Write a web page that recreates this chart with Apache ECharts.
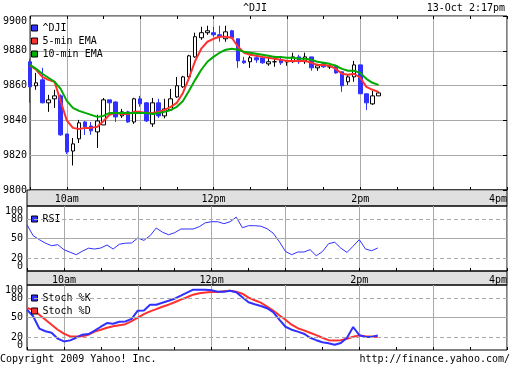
<!DOCTYPE html>
<html><head><meta charset="utf-8">
<script src="https://cdn.jsdelivr.net/npm/echarts@6/dist/echarts.min.js"></script>
<style>html,body{margin:0;padding:0;background:#fff}#c{width:512px;height:365px}</style>
</head><body><div id="c"></div>
<script>
// ---- data ----
const times = ['9:30','9:35','9:40','9:45','9:50','9:55',
'10:00','10:05','10:10','10:15','10:20','10:25','10:30','10:35','10:40','10:45','10:50','10:55',
'11:00','11:05','11:10','11:15','11:20','11:25','11:30','11:35','11:40','11:45','11:50','11:55',
'12:00','12:05','12:10','12:15','12:20','12:25','12:30','12:35','12:40','12:45','12:50','12:55',
'13:00','13:05','13:10','13:15','13:20','13:25','13:30','13:35','13:40','13:45','13:50','13:55',
'14:00','14:05','14:10','14:15','14:20','14:25','14:30','14:35','14:40','14:45','14:50','14:55',
'15:00','15:05','15:10','15:15','15:20','15:25','15:30','15:35','15:40','15:45','15:50','15:55',
'16:00'];
const xTickLabels = {'10:00':'10am','12:00':'12pm','14:00':'2pm','16:00':'4pm'};
const priceMin = 9800, priceMax = 9900, priceStep = 20;
const oscLabels = [0, 20, 50, 80, 100];
const oscGuides = [20, 50, 80];

const open  = [9873.7,9859.9,9863.3,9850.1,9852.4,9854.1,9832.2,9822.4,9829.4,9839.1,
               9836.8,9833.4,9837.4,9851.8,9850.6,9842.6,9844.9,9839.1,9852.4,9850.1,
               9838.0,9850.1,9842.6,9846.0,9853.5,9859.3,9865.0,9876.5,9887.5,9890.4,
               9890.4,9889.2,9886.9,9891.5,9886.9,9874.2,9873.7,9876.0,9876.0,9872.5,
               9873.7,9874.8,9873.7,9873.7,9876.5,9873.7,9876.5,9870.2,9872.5,9870.8,
               9871.4,9867.9,9862.2,9865.0,9871.9,9855.3,9849.5,9854.1];
const close = [9859.3,9861.6,9850.1,9851.8,9854.1,9831.7,9821.9,9826.5,9838.6,9836.3,
               9834.0,9839.7,9851.8,9850.1,9842.0,9844.9,9839.1,9852.4,9849.5,9839.7,
               9850.1,9842.6,9846.6,9852.4,9859.9,9865.0,9877.1,9888.1,9890.4,9891.5,
               9889.2,9888.1,9890.9,9887.5,9874.2,9873.1,9876.0,9874.8,9873.1,9873.7,
               9873.7,9873.1,9873.7,9876.5,9873.7,9876.5,9870.2,9871.4,9870.8,9870.8,
               9867.3,9859.9,9865.0,9871.9,9855.3,9850.1,9854.1,9855.8];
const low   = [9850.1,9857.6,9849.8,9844.9,9847.2,9831.1,9820.7,9814.1,9827.0,9831.7,
               9831.7,9824.2,9837.4,9845.0,9839.1,9841.4,9838.6,9838.0,9847.8,9839.1,
               9836.3,9841.4,9841.2,9845.5,9852.9,9858.7,9864.4,9876.0,9886.3,9889.2,
               9888.1,9885.2,9885.2,9887.0,9870.2,9872.5,9870.2,9873.1,9872.5,9871.4,
               9870.8,9871.9,9871.4,9873.1,9872.5,9872.5,9868.5,9868.5,9870.2,9869.6,
               9866.8,9856.4,9860.4,9862.2,9855.3,9846.0,9848.9,9854.1];
const high  = [9875.4,9867.3,9870.2,9854.7,9857.6,9855.0,9832.2,9829.9,9840.3,9839.7,
               9839.1,9843.2,9852.9,9851.8,9851.0,9846.6,9845.5,9853.0,9854.1,9850.6,
               9852.9,9852.4,9852.4,9858.1,9865.0,9865.6,9877.7,9890.4,9893.8,9894.4,
               9893.8,9894.4,9894.4,9892.0,9886.9,9876.5,9877.1,9877.1,9877.1,9876.5,
               9877.1,9876.5,9874.8,9878.9,9877.7,9878.9,9876.5,9872.5,9873.1,9872.0,
               9872.0,9867.9,9866.2,9874.2,9871.9,9855.3,9856.9,9856.4];
const ema5  = [9871.4,9869.1,9865.0,9863.3,9862.2,9851.0,9840.0,9835.7,9835.1,9835.7,
               9835.7,9836.3,9839.7,9843.2,9844.3,9843.7,9843.7,9844.9,9844.9,9844.3,
               9844.3,9844.9,9846.0,9847.8,9850.1,9855.8,9864.5,9874.2,9881.2,9885.2,
               9886.9,9888.1,9888.1,9887.5,9882.3,9878.9,9877.7,9877.1,9876.5,9876.0,
               9875.4,9874.8,9874.2,9874.2,9874.2,9874.2,9873.1,9871.9,9871.9,9871.4,
               9869.6,9866.8,9866.2,9866.8,9864.5,9859.3,9857.6,9856.4];
const ema10 = [9871.9,9869.6,9866.8,9864.5,9862.2,9858.1,9851.2,9847.2,9845.5,9844.3,
               9843.2,9842.0,9842.6,9844.3,9844.3,9844.3,9844.3,9844.3,9844.3,9844.3,
               9843.7,9844.3,9844.9,9846.0,9847.8,9851.2,9857.0,9863.3,9869.1,9873.7,
               9876.5,9878.9,9880.6,9881.2,9880.6,9879.4,9878.9,9878.3,9877.7,9877.1,
               9876.5,9876.5,9876.0,9876.0,9875.4,9875.4,9874.8,9873.7,9873.1,9872.5,
               9871.4,9869.6,9868.5,9868.5,9867.3,9863.9,9861.6,9860.4];
const rsi   = [71.2,54.3,48.2,42.8,38.9,40.5,32.8,28.9,25.1,30.5,
               35.1,33.8,35.4,40.0,33.8,41.2,42.8,43.1,50.8,47.1,
               54.3,66.2,59.7,55.8,58.9,64.6,64.6,64.6,68.2,74.3,
               75.8,75.8,72.8,75.8,82.8,66.6,69.7,69.7,68.9,65.1,
               58.2,45.1,30.2,25.1,29.2,29.2,32.8,23.5,29.7,42.0,
               44.3,35.1,28.6,38.2,48.2,33.8,31.2,35.4];
const stochK = [62.0,52.0,33.0,28.9,26.6,17.4,13.2,14.8,18.9,23.5,
               24.6,29.7,35.8,41.5,40.5,43.5,44.0,48.0,60.5,60.9,
               69.7,69.7,72.8,75.8,78.9,83.5,88.2,92.8,92.8,92.8,
               92.0,89.7,89.7,91.2,88.9,81.2,73.5,70.5,67.7,64.3,
               58.2,46.6,35.8,31.2,28.2,25.1,18.9,15.1,12.0,10.5,
               8.2,10.8,18.9,35.4,22.8,20.0,20.0,22.5];
const stochD = [64.6,62.0,54.3,46.6,38.9,31.2,25.1,20.9,20.9,21.2,
               23.5,28.2,31.2,34.3,36.6,38.2,39.7,44.3,49.7,55.1,
               59.4,62.8,66.6,69.7,73.5,77.4,81.2,85.1,87.4,88.6,
               89.2,89.2,90.5,91.2,89.7,86.6,80.5,76.6,72.8,66.6,
               60.5,53.5,46.6,38.9,33.5,30.2,26.6,22.8,18.9,15.1,
               14.8,15.1,17.4,20.5,22.5,21.2,20.9,20.0];

// ---- chart ----
const FONT = 'DejaVu Sans Mono';
const BLUE = '#3030ff', RED = '#ff3030', GREEN = '#00aa00', GRIDC = '#aaaaaa';
const candles = open.map((o, i) => [o, close[i], low[i], high[i]]);

const gridTops = [16, 206, 285], gridHeights = [174, 65, 65];
const grids = gridTops.map((t, i) => ({left: 27, right: 5, top: t, height: gridHeights[i],
  show: true, borderColor: '#000', borderWidth: 1, backgroundColor: 'transparent'}));

const halfHour = (idx) => idx % 6 === 0;
const xAxes = [];
[0, 1, 2].forEach(g => {
  xAxes.push({type: 'category', gridIndex: g, data: times, boundaryGap: false,
    axisLine: {show: false},
    axisTick: {show: true, inside: true, length: 3, interval: halfHour, lineStyle: {color: '#000'}},
    axisLabel: {show: g < 2, interval: (idx) => idx % 24 === 6, formatter: v => xTickLabels[v] || '',
      fontFamily: FONT, fontSize: 10, color: '#000', margin: 4, alignMaxLabel: 'right'},
    splitLine: {show: true, interval: (idx) => idx % 12 === 6, lineStyle: {color: GRIDC, width: 1}}});
  xAxes.push({type: 'category', gridIndex: g, data: times, boundaryGap: false, position: 'top',
    axisLine: {show: false},
    axisTick: {show: true, inside: g === 0, length: 3, interval: halfHour, lineStyle: {color: '#000'}},
    axisLabel: {show: false}, splitLine: {show: false}});
});

const yAxes = [
  {type: 'value', gridIndex: 0, min: priceMin, max: priceMax, interval: priceStep,
   axisLine: {show: false}, axisTick: {show: false},
   axisLabel: {formatter: v => String(v), fontFamily: FONT, fontSize: 10, color: '#000', margin: 3,
     verticalAlignMaxLabel: 'top', showMinLabel: true, showMaxLabel: true},
   splitLine: {show: true, lineStyle: {color: GRIDC, width: 1}}},
  {type: 'value', gridIndex: 0, position: 'right', min: priceMin, max: priceMax, interval: priceStep,
   axisLine: {show: false}, axisTick: {show: true, inside: true, length: 4, lineStyle: {color: '#000'}},
   axisLabel: {show: false}, splitLine: {show: false}}
];
[1, 2].forEach(g => {
  yAxes.push({type: 'value', gridIndex: g, min: 0, max: 100, interval: 10,
    axisLine: {show: false}, axisTick: {show: false},
    axisLabel: {formatter: v => oscLabels.includes(v) ? String(v) : '',
      fontFamily: FONT, fontSize: 10, color: '#000', margin: 4, hideOverlap: false,
      showMinLabel: true, showMaxLabel: true,
      verticalAlignMaxLabel: 'top', verticalAlignMinLabel: 'bottom'},
    splitLine: {show: false}});
  yAxes.push({type: 'value', gridIndex: g, position: 'right', min: 0, max: 100,
    axisLine: {show: false},
    axisTick: {show: true, inside: true, length: 4, customValues: oscGuides, lineStyle: {color: '#000'}},
    axisLabel: {show: false}, splitLine: {show: false}});
});

const guideLines = {silent: true, symbol: ['none', 'none'], label: {show: false}, animation: false,
  data: oscGuides.map(v => ({yAxis: v, lineStyle: {color: GRIDC, width: 1, type: v === 50 ? 'solid' : [4, 3]}}))};

const legendBase = {orient: 'vertical', left: 31, padding: 0, itemWidth: 6, itemHeight: 6, itemGap: 3, icon: 'rect',
  selectedMode: false, textStyle: {fontFamily: FONT, fontSize: 10, color: '#000'},
  itemStyle: {borderColor: '#000', borderWidth: 1}};

const option = {
  animation: false,
  backgroundColor: '#fff',
  grid: grids,
  xAxis: xAxes,
  yAxis: yAxes,
  legend: [
    Object.assign({}, legendBase, {top: 23, data: [
      {name: '^DJI', itemStyle: {color: BLUE, borderColor: '#000', borderWidth: 1}},
      {name: '5-min EMA'}, {name: '10-min EMA'}]}),
    Object.assign({}, legendBase, {top: 214, data: [{name: 'RSI'}]}),
    Object.assign({}, legendBase, {top: 293, data: [{name: 'Stoch %K'}, {name: 'Stoch %D'}]})
  ],
  graphic: [
    {type: 'rect', z: -1, shape: {x: 27, y: 190, width: 480, height: 16}, style: {fill: '#e0e0e0', stroke: '#000', lineWidth: 1}},
    {type: 'rect', z: -1, shape: {x: 27, y: 271, width: 480, height: 14}, style: {fill: '#e0e0e0', stroke: '#000', lineWidth: 1}},
    {type: 'text', x: 255, y: 8, style: {text: '^DJI', font: '10px ' + FONT, fill: '#000', align: 'center', verticalAlign: 'middle'}},
    {type: 'text', x: 505, y: 8, style: {text: '13-Oct 2:17pm', font: '10px ' + FONT, fill: '#000', align: 'right', verticalAlign: 'middle'}},
    {type: 'text', x: 0, y: 359, style: {text: 'Copyright 2009 Yahoo! Inc.', font: '10px ' + FONT, fill: '#000', align: 'left', verticalAlign: 'middle'}},
    {type: 'text', x: 510, y: 359, style: {text: 'http://finance.yahoo.com/', font: '10px ' + FONT, fill: '#000', align: 'right', verticalAlign: 'middle'}}
  ],
  series: [
    {name: '^DJI', type: 'candlestick', xAxisIndex: 0, yAxisIndex: 0, data: candles, barWidth: 4, clip: false,
     itemStyle: {color: '#ffffff', color0: BLUE, borderColor: '#000', borderColor0: BLUE, borderColorDoji: '#000', borderWidth: 1}},
    {name: '5-min EMA', type: 'line', xAxisIndex: 0, yAxisIndex: 0, data: ema5, symbol: 'none',
     lineStyle: {color: RED, width: 2}, itemStyle: {color: RED}},
    {name: '10-min EMA', type: 'line', xAxisIndex: 0, yAxisIndex: 0, data: ema10, symbol: 'none',
     lineStyle: {color: GREEN, width: 2}, itemStyle: {color: GREEN}},
    {name: 'RSI', type: 'line', xAxisIndex: 2, yAxisIndex: 2, data: rsi, symbol: 'none',
     lineStyle: {color: BLUE, width: 1}, itemStyle: {color: BLUE}, markLine: guideLines},
    {name: 'Stoch %K', type: 'line', xAxisIndex: 4, yAxisIndex: 4, data: stochK, symbol: 'none', z: 3,
     lineStyle: {color: BLUE, width: 2}, itemStyle: {color: BLUE}, markLine: guideLines},
    {name: 'Stoch %D', type: 'line', xAxisIndex: 4, yAxisIndex: 4, data: stochD, symbol: 'none', z: 2,
     lineStyle: {color: RED, width: 2}, itemStyle: {color: RED}}
  ]
};
const chart = echarts.init(document.getElementById('c'), null, {renderer: 'canvas'});
chart.setOption(option);
</script>
</body></html>
